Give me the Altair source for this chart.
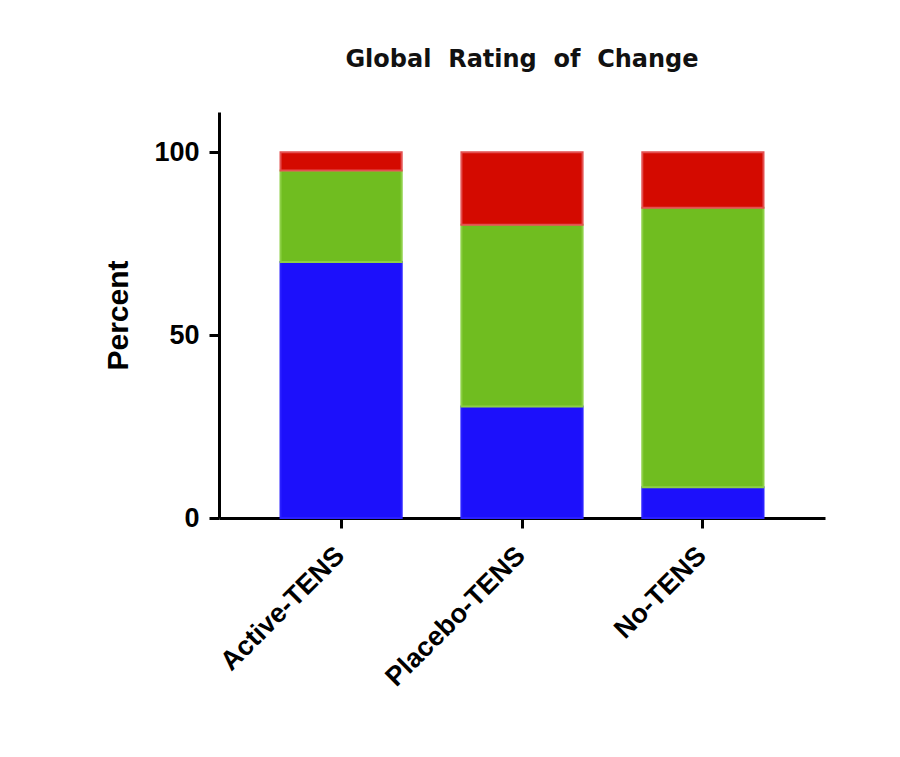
import altair as alt
import pandas as pd

groups = ["Active-TENS", "Placebo-TENS", "No-TENS"]
series = ["Improved", "No change", "Worse"]
improved = [70, 30.5, 8.4]
no_change = [25, 49.7, 76.4]
worse = [5, 19.8, 15.2]

fill_colors = ["#1c10fb", "#70bd20", "#d40a00"]
stroke_colors = ["#2a20ff", "#8ccf45", "#e35050"]

rows = []
for i, g in enumerate(groups):
    for j, (s, v) in enumerate(zip(series, [improved[i], no_change[i], worse[i]])):
        rows.append({"group": g, "series": s, "value": v, "order": j})
df = pd.DataFrame(rows)

chart = alt.Chart(df).mark_bar(strokeWidth=2).encode(
    x=alt.X("group:N", sort=groups, title=None,
            scale=alt.Scale(paddingInner=0.33, paddingOuter=0.34),
            axis=alt.Axis(labelAngle=-45, labelFontSize=27, labelFont="Liberation Sans",
                          labelFontWeight="bold", labelColor="black", labelPadding=14,
                          labelOffset=-10, labelLimit=400,
                          domainColor="black", domainWidth=3, tickColor="black",
                          tickWidth=3, tickSize=10)),
    y=alt.Y("value:Q", stack="zero", title="Percent",
            scale=alt.Scale(domain=[0, 111], nice=False),
            axis=alt.Axis(values=[0, 50, 100], labelFontSize=27, labelFont="Liberation Sans",
                          labelFontWeight="bold", labelColor="black", labelPadding=10,
                          domainColor="black", domainWidth=3, tickColor="black",
                          tickWidth=3, tickSize=10, grid=False,
                          titleFontSize=30, titleFont="Liberation Sans", titleFontWeight="bold",
                          titleColor="black", titlePadding=20)),
    color=alt.Color("series:N", scale=alt.Scale(domain=series, range=fill_colors), legend=None),
    stroke=alt.Stroke("series:N", scale=alt.Scale(domain=series, range=stroke_colors), legend=None),
    order=alt.Order("order:Q"),
).properties(
    width=606,
    height=406,
    title=alt.TitleParams("Global\u00a0 Rating\u00a0 of\u00a0 Change", fontSize=24, font="DejaVu Sans",
                          fontWeight="bold", color="#111111", anchor="middle", offset=40),
    autosize=alt.AutoSizeParams(type="none"),
    padding={"left": 211, "top": 104, "right": 67, "bottom": 220},
).configure_view(stroke=None)

chart.save("out.html", embed_options={"renderer": "svg", "actions": False})
